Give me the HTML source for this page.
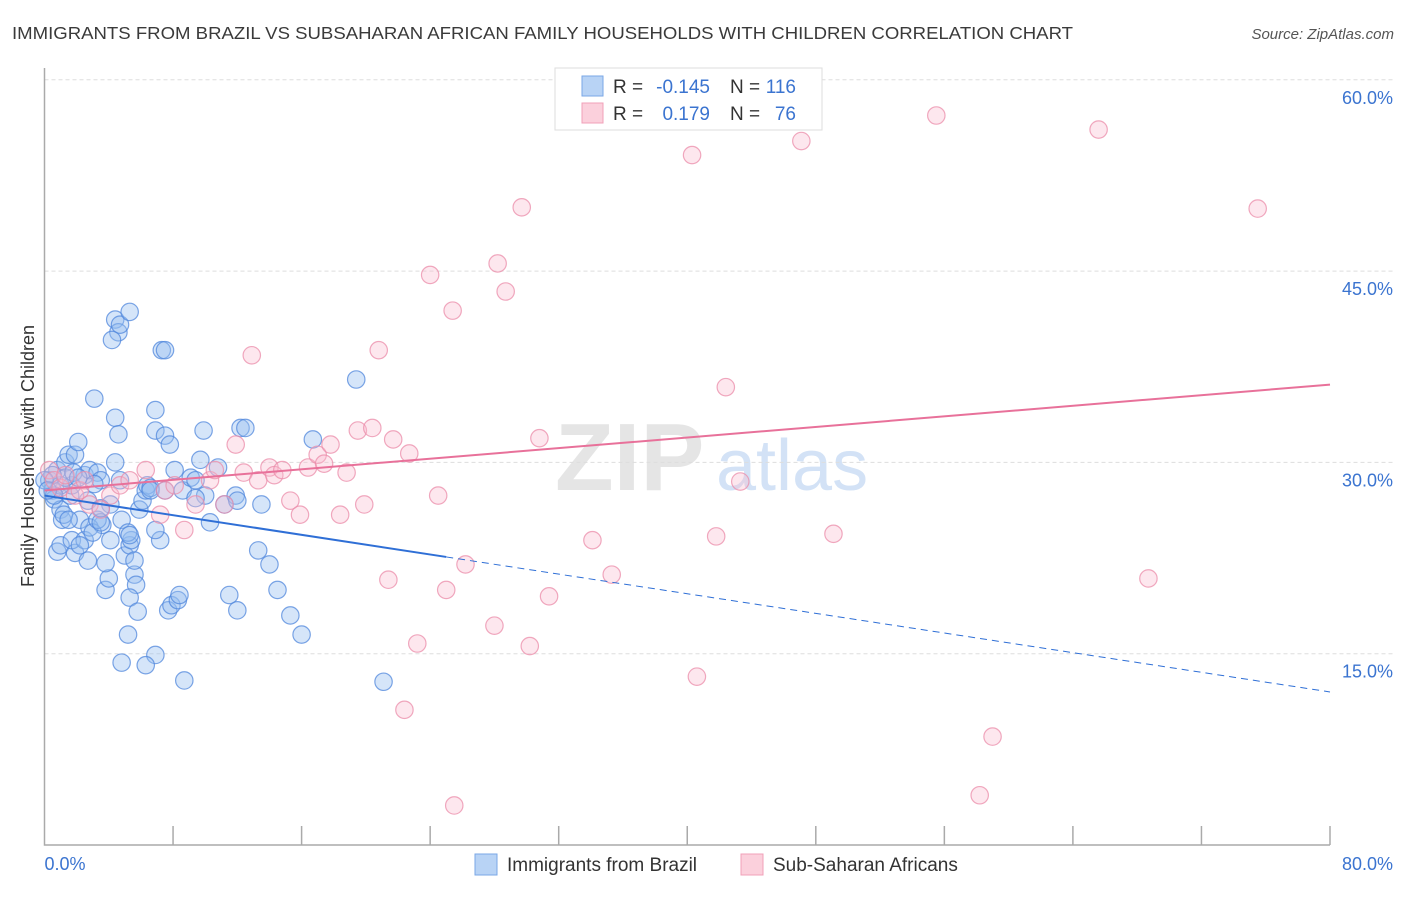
<!DOCTYPE html>
<html><head><meta charset="utf-8"><style>
body{margin:0;background:#fff;font-family:"Liberation Sans",sans-serif;}
svg text{font-family:"Liberation Sans",sans-serif;}
</style></head><body>
<svg id="chart" width="1406" height="892" xmlns="http://www.w3.org/2000/svg">
<text x="12" y="39" font-size="17.5" fill="#3a3a3a" textLength="1061" lengthAdjust="spacingAndGlyphs">IMMIGRANTS FROM BRAZIL VS SUBSAHARAN AFRICAN FAMILY HOUSEHOLDS WITH CHILDREN CORRELATION CHART</text>
<text x="1394" y="39" font-size="15" fill="#555" font-style="italic" text-anchor="end">Source: ZipAtlas.com</text>
<g>
<text x="555" y="490" font-size="96" fill="#ddd" font-family="Liberation Serif" font-weight="bold" opacity="0.75">ZIP</text>
<text x="716" y="490" font-size="72" fill="#c9dcf4" opacity="0.8">atlas</text>
</g>
<g id="grid"></g>
<g id="axes"></g>
<g id="pts"></g>
<g id="trends"></g>
<g>
<rect x="555" y="68" width="267" height="62" fill="#fff" stroke="#ddd"/>
<rect x="582" y="76" width="21" height="20" fill="#b8d3f5" stroke="#7aa7e6"/>
<rect x="582" y="103" width="21" height="20" fill="#fbd0dc" stroke="#f0a0b8"/>
<text x="613" y="93" font-size="19" fill="#333">R =</text>
<text x="710" y="93" font-size="19" fill="#3b74d0" text-anchor="end">-0.145</text>
<text x="730" y="93" font-size="19" fill="#333">N =</text>
<text x="796" y="93" font-size="19" fill="#3b74d0" text-anchor="end">116</text>
<text x="613" y="120" font-size="19" fill="#333">R =</text>
<text x="710" y="120" font-size="19" fill="#3b74d0" text-anchor="end">0.179</text>
<text x="730" y="120" font-size="19" fill="#333">N =</text>
<text x="796" y="120" font-size="19" fill="#3b74d0" text-anchor="end">76</text>
</g>
<g>
<rect x="475" y="854" width="22" height="21" fill="#b8d3f5" stroke="#7aa7e6"/>
<text x="507" y="871" font-size="19" fill="#333">Immigrants from Brazil</text>
<rect x="741" y="854" width="22" height="21" fill="#fbd0dc" stroke="#f0a0b8"/>
<text x="773" y="871" font-size="19" fill="#333">Sub-Saharan Africans</text>
</g>
<text transform="translate(34,456) rotate(-90)" font-size="18" fill="#333" text-anchor="middle">Family Households with Children</text>
</svg>
<script>
const yTicks=[15,30,45,60];
const yTickLabels=["15.0%","30.0%","45.0%","60.0%"];
const xTickVals=[8,16,24,32,40,48,56,64,72,80];
const brazilX=[0.3,0.5,0.6,0.8,1.0,1.1,1.3,1.5,1.6,1.7,1.9,2.1,2.2,2.5,2.7,2.8,3.1,3.3,3.5,3.6,3.8,4.0,4.1,4.4,4.6,4.7,4.2,4.4,4.6,4.4,4.7,4.8,5.0,5.2,5.3,5.4,5.6,5.7,5.3,5.9,6.1,6.3,6.4,6.6,6.9,6.9,7.2,7.3,7.5,7.5,7.8,7.7,7.9,8.3,8.4,8.7,8.6,9.1,9.4,9.9,10.0,10.3,10.8,11.2,11.9,11.5,12.0,12.2,12.5,13.3,13.5,14.0,14.5,15.3,16.0,16.7,19.4,21.1,6.6,6.9,6.3,4.8,0.8,1.0,1.9,1.7,2.5,2.8,3.0,3.3,3.5,2.7,2.2,3.8,5.3,5.8,5.6,5.2,5.3,4.1,3.5,3.1,1.0,1.3,0.5,0.6,1.2,0.0,0.2,1.5,1.8,2.1,6.9,7.5,9.4,8.1,9.7,12.0];
const brazilY=[28.6,27.8,27.1,29.4,26.3,25.5,30.0,30.6,27.4,28.2,30.6,31.6,25.5,29.0,27.0,29.4,35.0,29.2,28.6,25.1,20.0,20.9,23.9,41.2,40.2,40.8,39.6,33.5,32.2,30.0,28.6,25.5,22.7,16.5,23.5,23.9,21.2,20.4,41.8,26.3,27.0,27.8,28.2,28.0,34.1,32.5,23.9,38.8,38.8,32.1,31.4,18.4,18.8,19.2,19.6,12.9,27.8,28.8,28.6,32.5,27.4,25.3,29.6,26.7,27.4,19.6,18.4,32.7,32.7,23.1,26.7,22.0,20.0,18.0,16.5,31.8,36.5,12.8,27.8,14.9,14.1,14.3,23.0,23.5,22.9,23.9,23.9,24.9,24.5,25.5,25.3,22.3,23.5,22.1,19.4,18.3,22.3,24.5,24.3,26.7,26.4,28.3,28.2,28.8,29.0,27.4,25.9,28.6,27.8,25.5,29.2,28.8,24.7,27.8,27.2,29.4,30.2,27.0];
const afrX=[0.3,0.6,1.0,1.3,1.9,2.2,2.5,2.8,3.5,4.1,4.7,5.3,6.3,7.2,7.5,8.1,8.7,9.4,10.3,10.6,11.2,11.9,12.4,12.9,13.3,14.0,14.3,14.8,15.3,15.9,16.4,17.0,17.4,17.8,18.4,18.8,19.5,19.9,20.4,20.8,21.4,21.7,22.4,22.7,23.2,24.0,24.5,25.0,25.4,25.5,26.2,28.0,28.2,28.7,29.7,30.2,30.8,31.4,34.1,35.3,40.3,40.6,41.8,42.4,43.3,47.1,49.1,55.5,58.2,59.0,65.6,68.7,75.5,33.8];
const afrY=[29.4,28.6,28.0,29.0,27.4,27.8,28.6,26.7,26.3,27.4,28.2,28.6,29.4,25.9,27.8,28.2,24.7,26.7,28.6,29.4,26.7,31.4,29.2,38.4,28.6,29.6,29.0,29.4,27.0,25.9,29.6,30.6,29.9,31.4,25.9,29.2,32.5,26.7,32.7,38.8,20.8,31.8,10.6,30.7,15.8,44.7,27.4,20.0,41.9,3.1,22.0,17.2,45.6,43.4,50.0,15.6,31.9,19.5,23.9,21.2,54.1,13.2,24.2,35.9,28.5,55.2,24.4,57.2,3.9,8.5,56.1,20.9,49.9,58.4];
const brazilTrend=[27.4,12.0];
const brazilSolidEnd=25;
const afrTrend=[27.8,36.1];

const NS="http://www.w3.org/2000/svg";
const X0=44.5,X1=1330,Y0=845,PX=(X1-X0)/80,PY=191.3/15;
const sx=v=>X0+v*PX, sy=v=>Y0-v*PY;
function mk(tag,attrs,parent){const e=document.createElementNS(NS,tag);for(const k in attrs)e.setAttribute(k,attrs[k]);parent.appendChild(e);return e;}
const grid=document.getElementById('grid'),axes=document.getElementById('axes'),pts=document.getElementById('pts'),tr=document.getElementById('trends');
yTicks.forEach((t,i)=>{
 const l=mk('line',{x1:X0,x2:1393,y1:sy(t),y2:sy(t),stroke:'#ddd','stroke-dasharray':'4,3'},grid);
 
 
 const tx=mk('text',{x:1393,y:sy(t)+24,'font-size':18,fill:'#3b74d0','text-anchor':'end'},axes);
 tx.textContent=yTickLabels[i];
 
 
});
const ax=mk('path',{d:`M${X0},68V${Y0}H${X1}`,stroke:'#aaa',fill:'none','stroke-width':1.5},axes);


xTickVals.forEach(t=>{
 const l=mk('line',{x1:sx(t),x2:sx(t),y1:Y0-19,y2:Y0,stroke:'#aaa','stroke-width':1.5},axes);
 
 
});
const xl0=mk('text',{x:X0,y:870,'font-size':18,fill:'#3b74d0'},axes);xl0.textContent='0.0%';


const xl1=mk('text',{x:1393,y:870,'font-size':18,fill:'#3b74d0','text-anchor':'end'},axes);xl1.textContent='80.0%';


function dots(xs,ys,fill,stroke,name){xs.forEach((x,i)=>{
 const c=mk('circle',{cx:sx(x),cy:sy(ys[i]),r:8.7,fill:fill,stroke:stroke,'stroke-width':1.2},pts);
 
 
});}
dots(brazilX,brazilY,'rgba(150,190,240,0.4)','rgba(80,135,220,0.75)','brazil-point');
dots(afrX,afrY,'rgba(248,185,205,0.35)','rgba(235,140,170,0.75)','subsaharan-point');
const bAt=x=>brazilTrend[0]+(brazilTrend[1]-brazilTrend[0])*x/80;
const b1=mk('line',{x1:sx(0),y1:sy(bAt(0)),x2:sx(brazilSolidEnd),y2:sy(bAt(brazilSolidEnd)),stroke:'#2f6fd6','stroke-width':2},tr);


const b2=mk('line',{x1:sx(brazilSolidEnd),y1:sy(bAt(brazilSolidEnd)),x2:sx(80),y2:sy(bAt(80)),stroke:'#2f6fd6','stroke-width':1,'stroke-dasharray':'7,5'},tr);


const a1=mk('line',{x1:sx(0),y1:sy(afrTrend[0]),x2:sx(80),y2:sy(afrTrend[1]),stroke:'#e8719a','stroke-width':2},tr);


</script>
</body></html>
